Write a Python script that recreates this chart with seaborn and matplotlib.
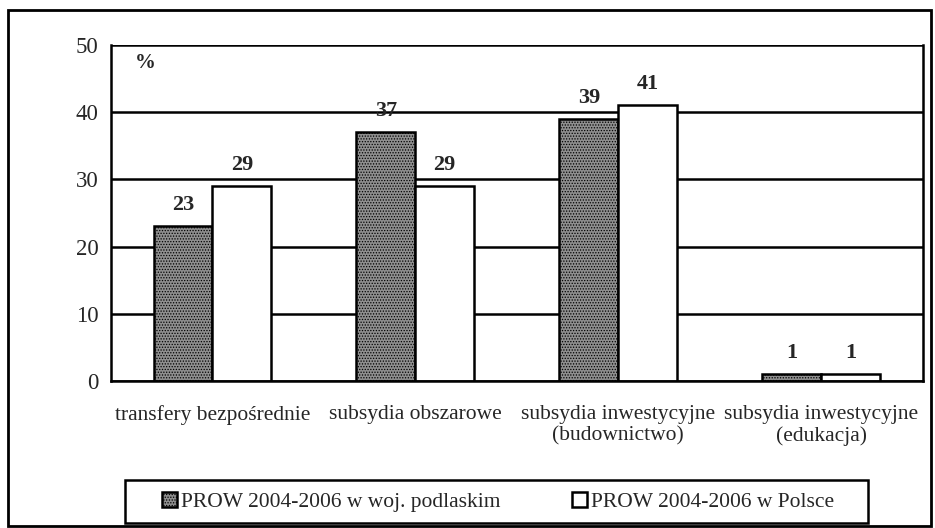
import matplotlib
matplotlib.use("Agg")
import matplotlib.pyplot as plt
import matplotlib.patches as mpatches
import pandas as pd
import seaborn as sns

# dane
categories = [
    "transfery bezpośrednie",
    "subsydia obszarowe",
    "subsydia inwestycyjne\n(budownictwo)",
    "subsydia inwestycyjne\n(edukacja)",
]
series_names = ["PROW 2004-2006 w woj. podlaskim", "PROW 2004-2006 w Polsce"]
podlaskie = [23, 37, 39, 1]
polska = [29, 29, 41, 1]

df = pd.DataFrame({
    "kategoria": categories * 2,
    "seria": [series_names[0]] * 4 + [series_names[1]] * 4,
    "wartosc": podlaskie + polska,
})

sns.set_style("white")
plt.rcParams["font.family"] = ["Liberation Serif", "DejaVu Serif"]
plt.rcParams["hatch.color"] = "#4a4a4a"
plt.rcParams["hatch.linewidth"] = 0.6

DARK = "#8f8f8f"
LW = 1.8

fig = plt.figure(figsize=(9.35, 5.28), dpi=100)
ax = fig.add_axes([0.1187, 0.2784, 0.868, 0.6364])

sns.barplot(
    data=df, x="kategoria", y="wartosc", hue="seria",
    palette=[DARK, "white"], edgecolor="black", linewidth=LW,
    width=0.58, gap=0, ax=ax, legend=False,
)

# wzór kropkowany dla pierwszej serii
for bar in ax.containers[0]:
    bar.set_hatch("......")

for cont in ax.containers:
    ax.bar_label(cont, padding=8, fontsize=16, fontweight="bold")

ax.set_ylim(0, 50)
ax.set_xlim(-0.5, 3.5)
ax.set_yticks(range(0, 51, 10))
ax.yaxis.grid(True, color="black", linewidth=LW)
ax.set_axisbelow(True)
ax.set_xlabel("")
ax.set_ylabel("")
for s in ["left", "bottom", "right"]:
    ax.spines[s].set_color("black")
    ax.spines[s].set_linewidth(LW)
ax.spines["top"].set_visible(False)

ax.set_xticks([-0.5, 0.5, 1.5, 2.5, 3.5])
ax.set_xticklabels([])
ax.set_xticks([0, 1, 2, 3], minor=True)
ax.set_xticklabels(categories, minor=True, fontsize=15.5, multialignment="center")
ax.tick_params(axis="x", which="major", direction="out", length=7, width=LW, color="black")
ax.tick_params(axis="x", which="minor", length=0, pad=17)
ax.tick_params(axis="y", direction="out", length=5, width=LW, color="black",
               labelsize=16.5, pad=4)

ax.text(0.03, 0.945, "%", transform=ax.transAxes, fontsize=15, fontweight="bold",
        ha="left", va="center")

handles = [
    mpatches.Patch(facecolor=DARK, edgecolor="black", hatch="......", linewidth=LW),
    mpatches.Patch(facecolor="white", edgecolor="black", linewidth=LW),
]
leg = fig.legend(
    handles, series_names, loc="center", ncol=2,
    bbox_to_anchor=(498 / 935, 1 - 502 / 528),
    frameon=False, fontsize=15.5, handlelength=0.7,
    handleheight=0.7, handletextpad=0.2, columnspacing=3.3, borderaxespad=0,
)

# ramka legendy
fig.patches.append(mpatches.Rectangle(
    (125 / 935, 1 - 523 / 528), 743 / 935, 43 / 528, transform=fig.transFigure,
    fill=False, edgecolor="black", linewidth=LW))

# ramka całego rysunku
fig.patches.append(mpatches.Rectangle(
    (0.009, 0.003), 0.987, 0.978, transform=fig.transFigure,
    fill=False, edgecolor="black", linewidth=2))

fig.savefig("out.png", dpi=100, facecolor="white")
